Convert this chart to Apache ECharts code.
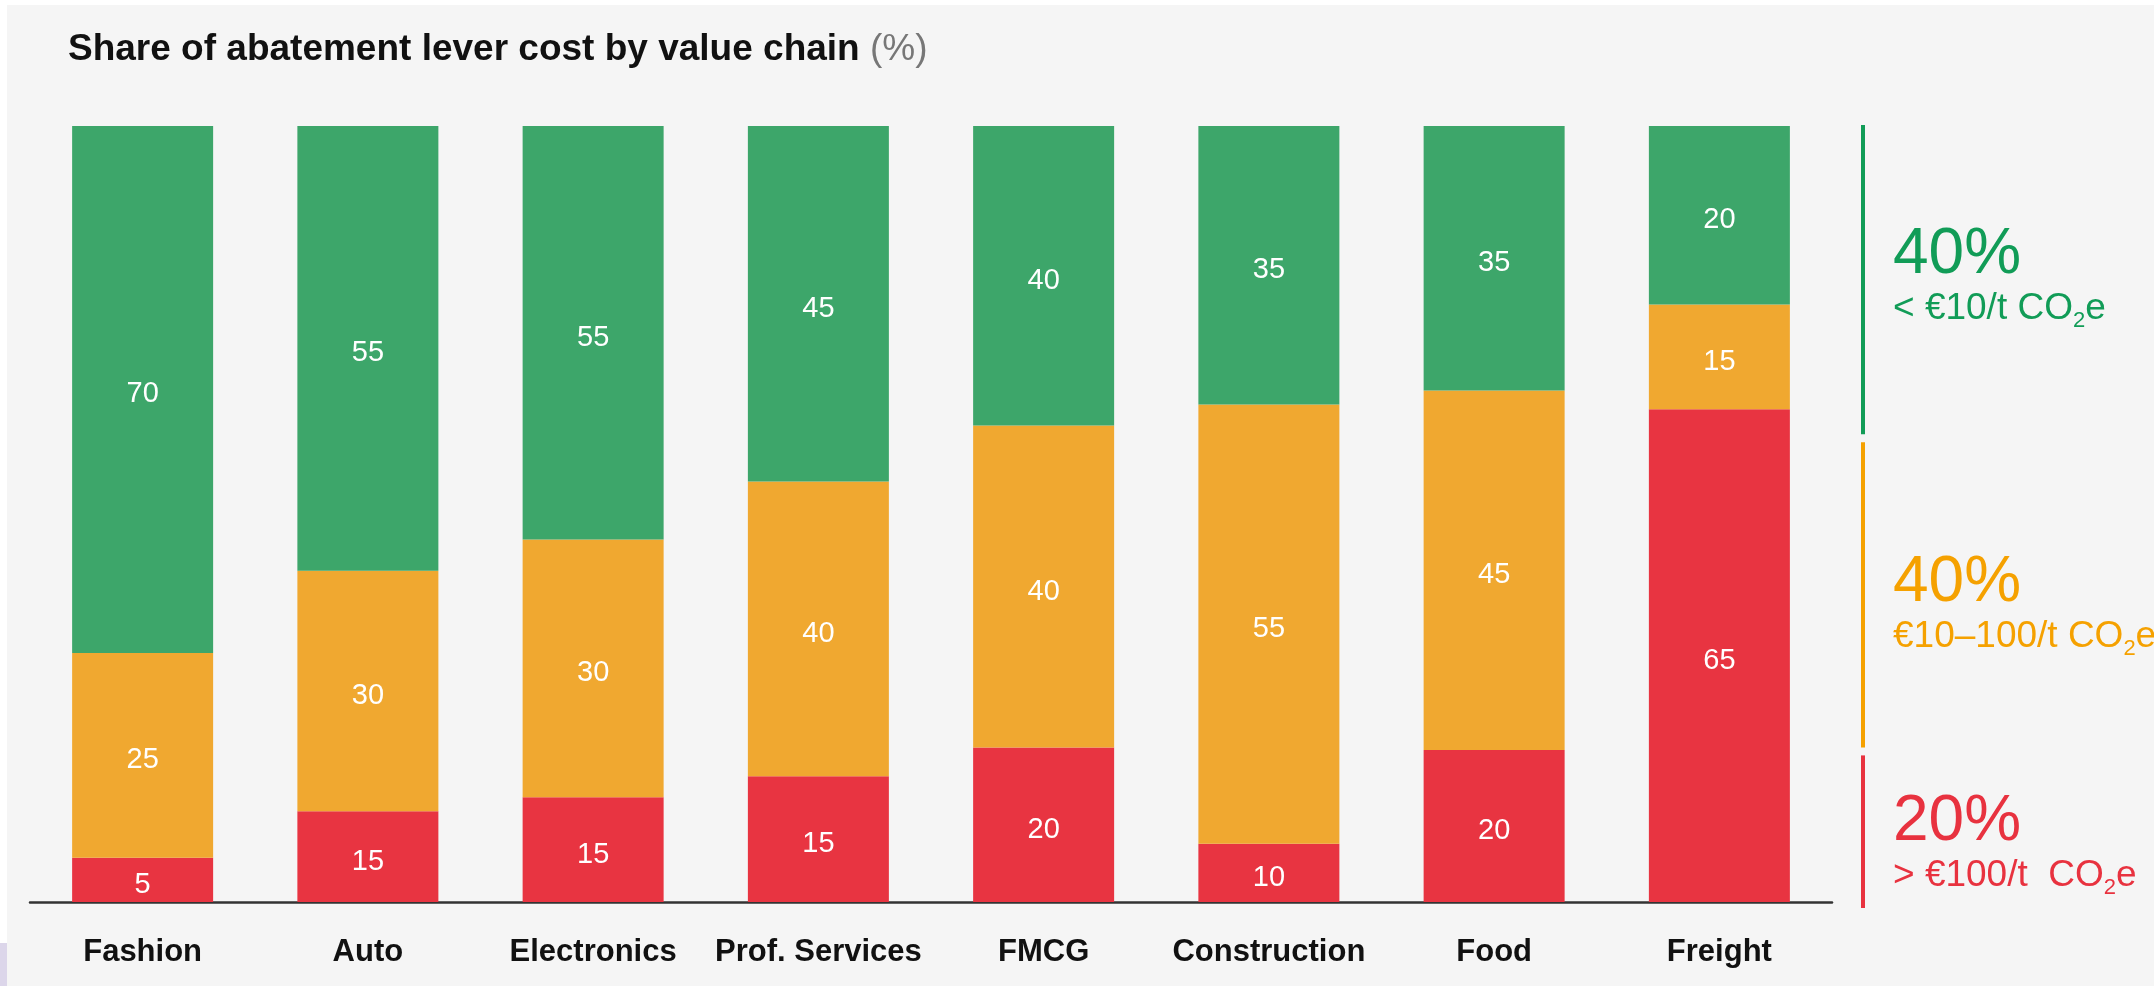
<!DOCTYPE html>
<html>
<head>
<meta charset="utf-8">
<title>Share of abatement lever cost by value chain</title>
<script src="https://cdn.jsdelivr.net/npm/echarts@6.0.0/dist/echarts.min.js"></script>
<style>
  html, body { margin: 0; padding: 0; background: #fff; }
  #chart { width: 2154px; height: 986px; }
</style>
</head>
<body>
<div id="chart"></div>
<script>
// value chains, left to right
const categories = ['Fashion', 'Auto', 'Electronics', 'Prof. Services', 'FMCG', 'Construction', 'Food', 'Freight']

// segment heights (% of each bar)
const lowCost = [67.9, 57.3, 53.3, 45.8, 38.6, 35.9, 34.1, 23.0]   // < €10/t
const midCost = [26.4, 31.0, 33.2, 38.0, 41.5, 56.6, 46.3, 13.5]   // €10-100/t
const highCost = [5.7, 11.7, 13.5, 16.2, 19.9, 7.5, 19.6, 63.5]    // > €100/t

// numbers printed inside the bars
const lowLabels = [70, 55, 55, 45, 40, 35, 35, 20]
const midLabels = [25, 30, 30, 40, 40, 55, 45, 15]
const highLabels = [5, 15, 15, 15, 20, 10, 20, 65]

// overall split shown on the right, top to bottom
const tierShare = [40, 40, 20]
const tierText = ['< €10/t CO₂e', '€10–100/t CO₂e', '> €100/t  CO₂e']

const FONT = '"Liberation Sans", Arial, Helvetica, sans-serif'
const barColors = ['#3da66a', '#f0a830', '#e83441']
const tierColors = ['#119c57', '#f5a100', '#e8323f']
// vertical middle of the big % and of the cost line for each tier
const tierTextY = [[255, 309], [583, 637], [822, 876]]

function barSeries (name, values, labels, color) {
  return {
    name: name,
    type: 'bar',
    stack: 'total',
    barWidth: 141,
    data: values,
    itemStyle: { color: color },
    label: {
      show: true,
      position: 'inside',
      offset: [0, 5],
      color: '#fff',
      fontFamily: FONT,
      fontSize: 29,
      formatter: p => labels[p.dataIndex]
    }
  }
}

// ranges for the side lines, from the top of the scale down
let tierData = []
let hi = 100
tierShare.forEach((s, i) => {
  tierData.push([0, hi - s, hi, i])
  hi -= s
})

// text next to the side lines
let tierGraphics = []
tierShare.forEach((s, i) => {
  tierGraphics.push({
    type: 'text',
    x: 1893,
    y: tierTextY[i][0],
    style: {
      text: s + '%',
      fill: tierColors[i],
      font: '64px ' + FONT,
      verticalAlign: 'middle'
    }
  })
  let parts = tierText[i].split('₂')
  tierGraphics.push({
    type: 'text',
    x: 1893,
    y: tierTextY[i][1],
    style: {
      text: '{m|' + parts[0] + '}{s|2}{m|' + parts[1] + '}',
      fill: tierColors[i],
      verticalAlign: 'middle',
      rich: {
        m: { fontFamily: FONT, fontSize: 37, lineHeight: 46, color: tierColors[i] },
        s: { fontFamily: FONT, fontSize: 22, lineHeight: 15, verticalAlign: 'bottom', color: tierColors[i] }
      }
    }
  })
})

const option = {
  backgroundColor: '#f5f5f5',
  animation: false,
  title: {
    text: 'Share of abatement lever cost by value chain {g|(%)}',
    left: 68,
    top: 31,
    padding: 0,
    textStyle: {
      fontFamily: FONT,
      fontSize: 37,
      fontWeight: 'bold',
      color: '#111',
      rich: {
        g: { fontFamily: FONT, fontSize: 37, fontWeight: 'normal', color: '#777' }
      }
    }
  },
  grid: [
    { left: 30, width: 1802, top: 126, bottom: 84 },
    { left: 1848, width: 30, top: 125, bottom: 78 }
  ],
  xAxis: [
    {
      type: 'category',
      data: categories,
      gridIndex: 0,
      axisTick: { show: false },
      axisLine: { lineStyle: { color: '#333', width: 2.5 } },
      axisLabel: {
        interval: 0,
        margin: 35,
        color: '#111',
        fontFamily: FONT,
        fontSize: 31,
        fontWeight: 'bold'
      }
    },
    { type: 'category', data: ['all'], gridIndex: 1, show: false }
  ],
  yAxis: [
    { type: 'value', min: 0, max: 100, gridIndex: 0, show: false, splitLine: { show: false } },
    { type: 'value', min: 0, max: 100, gridIndex: 1, show: false, splitLine: { show: false } }
  ],
  series: [
    barSeries('> €100/t', highCost, highLabels, barColors[2]),
    barSeries('€10-100/t', midCost, midLabels, barColors[1]),
    barSeries('< €10/t', lowCost, lowLabels, barColors[0]),
    {
      type: 'custom',
      xAxisIndex: 1,
      yAxisIndex: 1,
      data: tierData,
      encode: { x: 0, y: [1, 2] },
      renderItem: function (params, api) {
        let lo = api.value(1)
        let top = api.value(2)
        let x = api.coord([0, 0])[0]
        let y1 = api.coord([0, top])[1] + (top < 100 ? 4 : 0)
        let y2 = api.coord([0, lo])[1] - (lo > 0 ? 4 : 0)
        return {
          type: 'line',
          shape: { x1: x, y1: y1, x2: x, y2: y2 },
          style: { stroke: tierColors[api.value(3)], lineWidth: 4 }
        }
      }
    }
  ],
  graphic: [
    // white margin of the screenshot
    { type: 'rect', shape: { x: 0, y: 0, width: 2154, height: 5 }, style: { fill: '#fff' }, silent: true },
    { type: 'rect', shape: { x: 0, y: 0, width: 7, height: 986 }, style: { fill: '#fff' }, silent: true },
    { type: 'rect', shape: { x: 0, y: 943, width: 7, height: 43 }, style: { fill: '#dcd6ea' }, silent: true }
  ].concat(tierGraphics)
}

const chart = echarts.init(document.getElementById('chart'))
chart.setOption(option)
</script>
</body>
</html>
